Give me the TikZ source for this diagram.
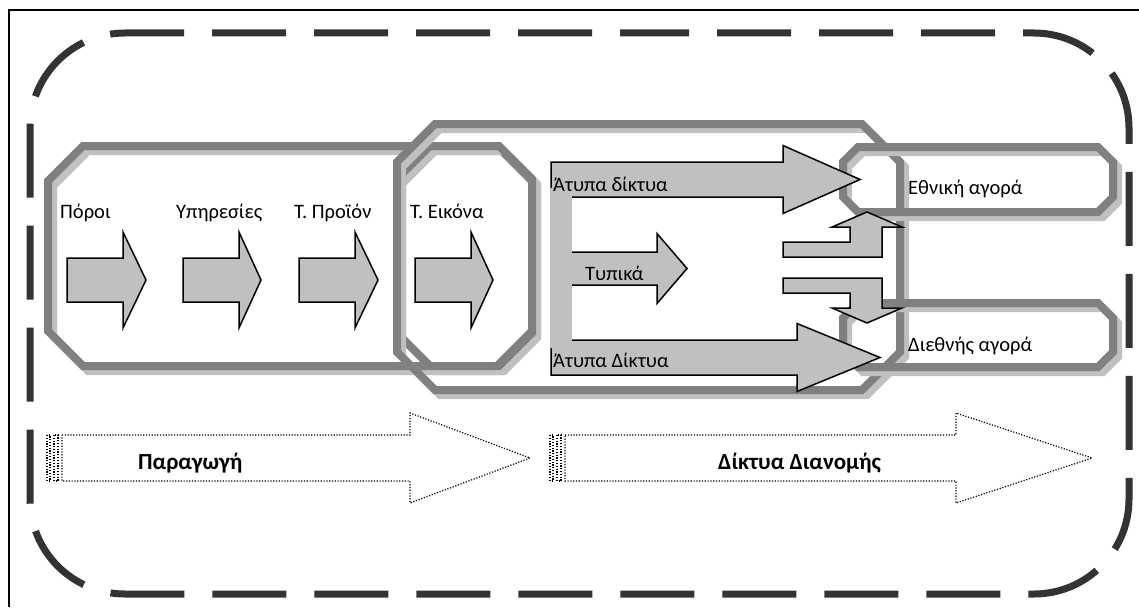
\documentclass[tikz,border=0pt]{standalone}
\usepackage{fontspec}
\setmainfont{Carlito}
\definecolor{dashc}{HTML}{333333}
\definecolor{boxd}{HTML}{808080}
\definecolor{boxl}{HTML}{C0C0C0}
\definecolor{arrf}{HTML}{C0C0C0}
\tikzset{
  dashframe/.style={draw=dashc, line width=7pt, dash pattern=on 74pt off 28pt, dash phase=59.5pt},
  boxdark/.style={draw=boxd, line width=8pt, line join=miter},
  boxlight/.style={draw=boxl, line width=8pt, line join=miter},
  blk/.style={draw=black, fill=arrf, line width=1.5pt, line join=miter},
  dotl/.style={draw=black, line width=1.2pt, dash pattern=on 1.2pt off 1.6pt},
  lbl/.style={inner sep=0pt, anchor=base west, font=\fontsize{20.5}{24}\selectfont},
  blbl/.style={inner sep=0pt, anchor=base west, font=\fontsize{23}{27}\selectfont\bfseries},
}
\newcommand\octbox[5]{%
  \draw[boxlight, shift={(5,5)}] (#1+#5,#2) -- (#3-#5,#2) -- (#3,#2+#5) -- (#3,#4-#5) -- (#3-#5,#4) -- (#1+#5,#4) -- (#1,#4-#5) -- (#1,#2+#5) -- cycle;
  \draw[boxdark] (#1+#5,#2) -- (#3-#5,#2) -- (#3,#2+#5) -- (#3,#4-#5) -- (#3-#5,#4) -- (#1+#5,#4) -- (#1,#4-#5) -- (#1,#2+#5) -- cycle;}
\newcommand\blkarrow[6]{%
  \draw[blk] (#1,#4-#5) -- (#2,#4-#5) -- (#2,#4-#6) -- (#3,#4) -- (#2,#4+#6) -- (#2,#4+#5) -- (#1,#4+#5) -- cycle;}
\begin{document}
\begin{tikzpicture}[x=1pt, y=-1pt]
\useasboundingbox (0,0) rectangle (1139,607);
\fill[white] (0,0) rectangle (1139,607);
% black frame (left and top)
\draw[black, line width=2.7pt] (9,607) -- (9,10) -- (1139,10);
% dashed rounded frame
\draw[dashframe, rounded corners=95pt] (579.5,33) -- (1129,33) -- (1129,594) -- (30,594) -- (30,33) -- cycle;

% grey octagonal boxes
\octbox{48}{146}{532}{366}{35}
\octbox{397}{146}{532}{366}{33}
\octbox{397}{124}{900}{390}{38}
\octbox{843}{147}{1113}{212}{15}
\octbox{843}{303}{1113}{367}{15}

% production arrows
\blkarrow{67}{123}{146}{280}{22}{48}
\blkarrow{183}{239}{261}{280}{22}{48}
\blkarrow{299}{355}{378}{280}{22}{48}
\blkarrow{415}{471}{493}{280}{22}{48}

% distribution arrows
\blkarrow{551}{783}{860}{179.5}{17.5}{34}
\blkarrow{551}{657}{687}{268.5}{16.5}{35}
\blkarrow{551}{797}{880}{357.5}{17.5}{34}
\fill[arrf] (550.3,188) rectangle (572,348);

% bent arrows
\draw[blk] (783,257) -- (783,242) -- (850,242) -- (850,227) -- (832,227) -- (867,212) -- (902,227) -- (882,227) -- (882,257) -- cycle;
\draw[blk] (783,278) -- (882,278) -- (882,308) -- (902,308) -- (867,323) -- (832,308) -- (850,308) -- (850,293) -- (783,293) -- cycle;

% labels
\node[lbl] (poroi) at (60,218) {Πόροι};
\node[lbl] (ypiresies) at (176,218) {Υπηρεσίες};
\node[lbl] (proion) at (294,218) {Τ. Προϊόν};
\node[lbl] (eikona) at (410,218) {Τ. Εικόνα};
\begin{scope}
  \clip (552,163) rectangle (782,190.5);
  \node[lbl] (atypa1) at (553,191) {Άτυπα δίκτυα};
\end{scope}
\begin{scope}
  \clip (573,253) rectangle (656,279);
  \node[lbl] (typika) at (585,280) {Τυπικά};
\end{scope}
\node[lbl] (atypa2) at (553,367) {Άτυπα Δίκτυα};
\node[lbl] (ethniki) at (908,194) {Εθνική αγορά};
\node[lbl] (diethnis) at (908,351) {Διεθνής αγορά};

% dotted striped arrows
\draw[dotl] (47,435) rectangle (50,481);
\draw[dotl] (54,435) rectangle (58,481);
\draw[dotl] (62,435) -- (410,435) -- (410,413) -- (530,458) -- (410,503) -- (410,481) -- (62,481) -- cycle;
\draw[dotl] (550,435) rectangle (553,481);
\draw[dotl] (557,435) rectangle (561,481);
\draw[dotl] (565,435) -- (956,435) -- (956,413) -- (1092,458) -- (956,503) -- (956,481) -- (565,481) -- cycle;
\node[blbl] (paragogi) at (138,469) {Παραγωγή};
\node[blbl] (diktya) at (718,469) {Δίκτυα Διανομής};
\end{tikzpicture}
\end{document}
